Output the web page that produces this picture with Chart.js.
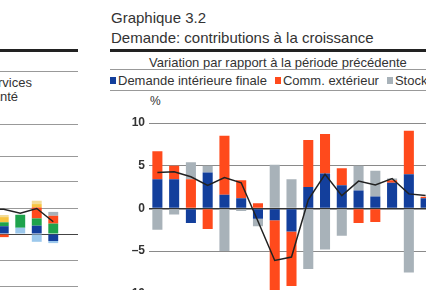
<!DOCTYPE html>
<html>
<head>
<meta charset="utf-8">
<script src="https://cdn.jsdelivr.net/npm/chart.js@4"></script>
<style>
    body { margin: 0; width: 426px; height: 290px; overflow: hidden; position: relative; background: #fff;
        font-family: 'Liberation Sans', Arial, sans-serif; color: #333; }
    .abs { position: absolute; white-space: nowrap; }
    .rule { position: absolute; height: 3px; background: #222; }
    .thin { position: absolute; height: 1px; background: #999; }
    #legend { display: flex; font-size: 13px; line-height: 15px; }
    #legend span.item { display: flex; align-items: center; margin-right: 8px; }
    #legend i { display: inline-block; width: 6px; height: 7px; margin-right: 2px; }
    canvas { position: absolute; }
</style>
</head>
<body>

<!-- left panel (cut off) -->
<div class="rule" style="left:0; width:78px; top:49px;"></div>
<div class="thin" style="left:0; width:78px; top:71px;"></div>
<div class="abs" style="right:394px; top:76px; font-size:13px; line-height:14px;">Contributions des services</div>
<div class="abs" style="right:408px; top:90px; font-size:13px; line-height:14px;">de santé</div>
<div class="thin" style="left:0; width:78px; top:124px;"></div>
<canvas id="left" width="165" height="142" style="left:-87px; top:150px;"></canvas>

<!-- main panel -->
<div class="abs" style="left:111px; top:9px; font-size:15px; line-height:18px;">Graphique 3.2</div>
<div class="abs" style="left:111px; top:29px; font-size:15px; line-height:18px;">Demande: contributions à la croissance</div>
<div class="rule" style="left:110px; right:0; top:49px;"></div>
<div class="abs" style="left:149px; top:55px; font-size:13px; line-height:15px;">Variation par rapport à la période précédente</div>
<div class="thin" style="left:110px; right:0; top:69px;"></div>
<div id="legend" class="abs" style="left:110px; top:73px;"></div>
<div class="thin" style="left:110px; right:0; top:90px;"></div>
<div class="abs" style="left:150px; top:94px; font-size:12px; line-height:14px;">%</div>
<canvas id="graph" width="334" height="200" style="left:100px; top:105px;"></canvas>

<script>
// main chart
const periods = ['1', '2', '3', '4', '5', '6', '7', '8', '9', '10', '11', '12', '13', '14', '15', '16', '17'];
const seriesNames = ['Demande intérieure finale', 'Comm. extérieur', 'Stocks', 'PIB'];
const seriesColors = ['#133f9c', '#ff4a1c', '#a8b2b9', '#222'];

const domestic = [3.4, 3.4, -1.7, 4.2, 1.6, 1.2, -1.2, -1.4, -2.7, 2.5, 4.1, 2.7, 2.1, 1.4, 3.0, 4.0, 1.2];
const trade = [3.3, 1.6, 3.4, -2.4, 6.9, 2.1, 0.6, -9.0, -6.4, 5.5, 4.6, 2.0, -1.7, -1.6, 0.3, 5.1, 0.15];
const stocks = [-2.5, -0.7, 2.0, 0.8, -5.0, -0.3, -0.9, 5.1, 3.4, -7.1, -4.8, -3.2, 2.9, 3.0, 0.2, -7.5, null];
const gdp = [4.2, 4.3, 3.7, 2.7, 3.6, 3.0, -1.5, -6.1, -5.7, 1.0, 4.0, 1.5, 3.2, 2.75, 3.5, 1.7, 1.5];
const yTicks = [-10, -5, 0, 5, 10];

// left chart (partly off the page)
const leftPeriods = ['1', '2', '3', '4', '5', '6', '7', '8', '9', '10'];
const leftBlue = [null, null, null, null, null, 0.3, 0, 0.32, -0.27, null];
const leftLightBlue = [null, null, null, null, null, 0, 0.24, -0.3, -0.08, null];
const leftGreen = [null, null, null, null, null, 0.15, 0.5, 0.28, 0.4, null];
const leftRed = [null, null, null, null, null, -0.12, 0, 0.42, 0.3, null];
const leftYellow = [null, null, null, null, null, 0.2, 0, 0.13, 0, null];
const leftPale = [null, null, null, null, null, 0.08, 0, 0.13, 0, null];
const leftGrey = [null, null, null, null, null, 0, 0, 0, 0.15, null];
const leftLine = [null, null, null, null, 0.95, 0.95, 0.8, 0.98, 0.47, null];

const legend = document.getElementById('legend');
seriesNames.slice(0, 3).forEach((name, i) => {
    const item = document.createElement('span');
    item.className = 'item';
    item.innerHTML = '<i style="background:' + seriesColors[i] + '"></i>' + name;
    legend.appendChild(item);
});

const bar = (data, color) => ({ type: 'bar', data, backgroundColor: color, order: 1,
    categoryPercentage: 1, barPercentage: 0.6 });

new Chart('graph', {
    data: {
        labels: periods,
        datasets: [
            bar(domestic, seriesColors[0]),
            bar(trade, seriesColors[1]),
            bar(stocks, seriesColors[2]),
            { type: 'line', data: gdp, borderColor: seriesColors[3], borderWidth: 1.5,
              pointRadius: 0, tension: 0, stack: 'line', order: 0 },
        ],
    },
    options: {
        responsive: false,
        animation: false,
        layout: { padding: { top: 18, bottom: 10, left: 0, right: 0 } },
        plugins: { legend: { display: false }, tooltip: { enabled: false } },
        scales: {
            x: { stacked: true, display: false },
            y: {
                stacked: true,
                min: -10,
                max: 10,
                afterBuildTicks: s => { s.ticks = yTicks.map(v => ({ value: v })); },
                afterFit: s => { s.width = 49; },
                border: { display: false },
                grid: {
                    drawTicks: false,
                    color: c => c.tick.value === 0 ? '#333' : '#8a8a8a',
                    lineWidth: c => c.tick.value === 0 ? 1.5 : 1,
                },
                ticks: {
                    padding: 4,
                    color: '#333',
                    font: { family: 'Liberation Sans', size: 12, weight: 'bold' },
                    callback: v => v < 0 ? '\u2013' + Math.abs(v) : v,
                },
            },
        },
    },
});

new Chart('left', {
    data: {
        labels: leftPeriods,
        datasets: [
            bar(leftBlue, '#133f9c'),
            bar(leftLightBlue, '#9cc8ec'),
            bar(leftGreen, '#1ea34c'),
            bar(leftRed, '#ff4a1c'),
            bar(leftYellow, '#f7c440'),
            bar(leftPale, '#f3dc96'),
            bar(leftGrey, '#a8b2b9'),
            { type: 'line', data: leftLine, borderColor: '#222', borderWidth: 1.5,
              pointRadius: 0, tension: 0, stack: 'line', order: 0 },
        ],
    },
    options: {
        responsive: false,
        animation: false,
        layout: { padding: { top: 6, bottom: 6, left: 0, right: 0 } },
        plugins: { legend: { display: false }, tooltip: { enabled: false } },
        scales: {
            x: { stacked: true, display: false },
            y: {
                stacked: true,
                min: -2,
                max: 3,
                afterFit: s => { s.width = 0; },
                border: { display: false },
                grid: {
                    drawTicks: false,
                    color: c => c.tick.value === 0 ? '#444' : '#999',
                },
                ticks: { display: false, stepSize: 1 },
            },
        },
    },
});
</script>
</body>
</html>
